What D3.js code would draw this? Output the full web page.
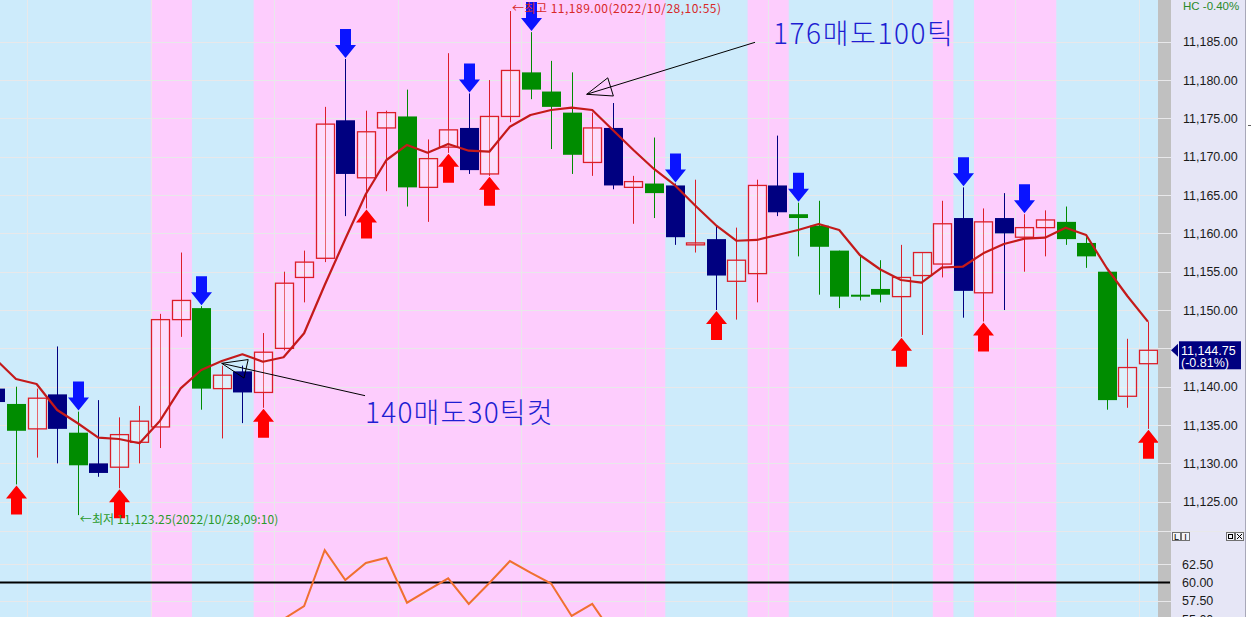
<!DOCTYPE html>
<html><head><meta charset="utf-8">
<script src="https://cdn.jsdelivr.net/npm/d3@7"></script>
<style>body{margin:0;background:#fff;overflow:hidden}svg{display:block}</style>
</head><body>
<svg id="c" width="1252" height="617"></svg>
<script>
// ---------- DATA ----------
const bars   = d3.range(-1, 56); // bar index (5-min bars)
const open  = [11139.75,11137.75,11134.5,11139.0,11134.0,11130.0,11129.5,11132.75,11134.75,11148.75,11150.25,11139.75,11142.0,11139.25,11145.0,11154.25,11156.75,11174.75,11167.25,11173.75,11175.25,11166.0,11171.25,11173.75,11167.75,11175.25,11181.0,11178.5,11175.75,11169.25,11173.75,11166.0,11166.5,11166.25,11158.5,11159.25,11153.75,11154.75,11166.25,11162.5,11161.0,11157.75,11152.0,11152.75,11151.75,11154.5,11156.0,11162.0,11152.25,11162.0,11159.5,11160.75,11161.5,11158.75,11155.0,11138.75,11143.0];
const high  = [11140.25,11140.0,11139.75,11145.25,11136.75,11138.25,11136.0,11137.5,11149.5,11157.5,11150.5,11142.75,11142.75,11147.0,11155.0,11157.75,11176.5,11182.75,11176.0,11176.0,11178.75,11172.25,11183.5,11178.25,11180.0,11189.0,11186.25,11182.5,11181.0,11175.75,11177.0,11167.5,11172.5,11166.5,11167.0,11161.0,11160.75,11167.0,11172.75,11164.0,11164.25,11157.75,11157.0,11156.5,11158.5,11157.5,11164.25,11166.0,11163.25,11165.25,11162.5,11163.0,11163.5,11159.5,11155.0,11146.25,11148.5];
const low   = [11137.5,11127.25,11130.75,11130.0,11123.25,11128.25,11126.75,11130.0,11132.0,11146.5,11137.0,11133.25,11135.25,11137.25,11144.75,11151.0,11156.25,11162.25,11163.25,11165.5,11163.5,11161.5,11170.5,11167.75,11167.5,11174.5,11177.5,11171.0,11167.75,11167.5,11165.75,11161.25,11162.0,11158.5,11157.5,11150.0,11148.75,11151.0,11162.25,11157.0,11152.0,11150.25,11151.25,11151.0,11146.5,11146.75,11154.25,11149.0,11148.5,11150.0,11155.0,11157.0,11158.5,11155.5,11137.0,11137.25,11134.5];
const close = [11138.0,11134.25,11138.5,11134.5,11129.75,11128.75,11133.75,11135.5,11148.75,11151.25,11139.75,11141.5,11139.25,11144.5,11153.5,11156.25,11174.25,11167.75,11173.25,11175.75,11166.0,11169.75,11173.5,11168.25,11175.25,11181.25,11178.75,11176.5,11170.25,11173.75,11166.25,11166.75,11165.25,11159.5,11158.75,11154.5,11156.5,11166.25,11162.75,11162.0,11158.25,11151.75,11151.75,11152.0,11154.25,11157.5,11161.25,11152.5,11161.5,11160.0,11160.75,11161.75,11159.25,11157.0,11138.25,11142.5,11144.75];
// candle style: u = rising (hollow red), n = falling (navy), g = falling (green)
const kind  = "ngungnuuuugunuuuunuuguunuugggunugnunuunggggguuununuuggguu".split("");
const ma    = [11143.6,11141.0,11140.35,11136.96,11135.23,11133.35,11133.18,11132.62,11135.57,11139.79,11142.18,11143.35,11144.23,11143.26,11143.84,11146.97,11153.27,11159.27,11165.14,11169.57,11171.53,11170.52,11171.66,11170.78,11170.65,11173.91,11175.44,11176.09,11176.39,11176.09,11173.48,11170.87,11168.4,11166.31,11163.64,11161.09,11159.04,11159.14,11159.79,11160.44,11161.22,11160.44,11157.18,11155.29,11153.92,11153.57,11155.55,11155.65,11157.4,11158.61,11159.31,11159.44,11160.74,11159.79,11155.48,11151.83,11148.48];
// lower-panel oscillator (only the visible part)
const oscBars = d3.range(12, 30);
const osc     = [52.0,55.0,56.79,64.43,60.34,62.66,63.38,57.24,58.91,60.57,57.07,59.93,62.93,61.34,59.86,55.43,57.07,53.0];
const sellSignals = [3,9,16,22,25,32,38,46,49];
const buySignals  = [0,5,12,17,21,23,34,43,47,55];
const pinkRanges  = [[7,8],[12,31],[36,37],[45,45],[47,50]];
const priceTicks  = [11185,11180,11175,11170,11165,11160,11155,11150,11145,11140,11135,11130,11125];
const oscTicks    = [62.5,60,57.5,55];
const oscLevel    = 60;
const gridEvery   = 6;
const lastPrice = 11144.75, lastChange = "(-0.81%)", hcText = "HC -0.40%";
const maxLabel = {bar:24, value:11189.00, text:"←최고 11,189.00(2022/10/28,10:55)"};
const minLabel = {bar:3,  value:11123.25, text:"←최저 11,123.25(2022/10/28,09:10)"};
const notes = [
  {text:"176매도100틱", tx:36.78, ty:11184.7, from:[35.91,11184.92], tip:[27.73,11178.14]},
  {text:"140매도30틱컷", tx:16.96, ty:11135.27, from:[16.96,11138.83], tip:[9.995,11143.05]}
];

// ---------- LAYOUT ----------
const W=1252, H=617, plotR=1158, stripR=1171, axisR=1245, panelSplit=531.5;
const x  = d3.scaleLinear().domain([0,55]).range([16,1147.9]);
const y  = d3.scaleLinear().domain([11125,11185]).range([501.7,41.7]);
const yo = d3.scaleLinear().domain([57.5,62.5]).range([600.8,564.2]);
const fmt = d3.format(",.2f");
const svg = d3.select("#c");

const defs = svg.append("defs");
defs.append("clipPath").attr("id","cu").append("rect").attr("x",0).attr("y",0).attr("width",plotR).attr("height",panelSplit);
defs.append("clipPath").attr("id","cl").append("rect").attr("x",0).attr("y",panelSplit).attr("width",plotR).attr("height",H-panelSplit);

svg.append("rect").attr("width",W).attr("height",H).attr("fill","#ffffff");
svg.append("rect").attr("width",plotR).attr("height",H).attr("fill","#cdebfb");
svg.append("g").selectAll("rect").data(pinkRanges).join("rect")
  .attr("x",d=>x(d[0]-0.5)+1).attr("width",d=>x(d[1]+0.5)-x(d[0]-0.5))
  .attr("y",0).attr("height",H).attr("fill","#fdcdfd");
svg.append("rect").attr("x",plotR).attr("width",stripR-plotR).attr("height",H).attr("fill","#c0c0c0");
svg.append("rect").attr("x",stripR).attr("width",axisR-stripR).attr("height",H).attr("fill","#e6e6f6");
svg.append("line").attr("x1",axisR+0.5).attr("x2",axisR+0.5).attr("y1",0).attr("y2",H).attr("stroke","#a8a8b8");
svg.append("line").attr("x1",1248).attr("x2",1251).attr("y1",125.5).attr("y2",125.5).attr("stroke","#606060");

// grid
const grid = svg.append("g").attr("stroke","#e8e8ea").attr("stroke-width",1);
grid.selectAll(".h").data(priceTicks).join("line")
  .attr("x1",0).attr("x2",stripR).attr("y1",d=>Math.round(y(d))+0.5).attr("y2",d=>Math.round(y(d))+0.5);
grid.selectAll(".o").data([62.5,57.5]).join("line")
  .attr("x1",0).attr("x2",stripR).attr("y1",d=>Math.round(yo(d))+0.5).attr("y2",d=>Math.round(yo(d))+0.5);
grid.append("line").attr("x1",0).attr("x2",axisR).attr("y1",panelSplit).attr("y2",panelSplit);
grid.selectAll(".v").data(d3.range(0,56,gridEvery)).join("line")
  .attr("x1",d=>Math.round(x(d+0.5))+1.5).attr("x2",d=>Math.round(x(d+0.5))+1.5).attr("y1",0).attr("y2",H);

// lower panel
svg.append("line").attr("x1",0).attr("x2",1170).attr("y1",yo(oscLevel)).attr("y2",yo(oscLevel))
  .attr("stroke","#000").attr("stroke-width",2);
const oscData = oscBars.map((b,i)=>({b, v:osc[i]}));
svg.append("path").attr("clip-path","url(#cl)").datum(oscData)
  .attr("d", d3.line().defined(d=>d.v!=null).x(d=>x(d.b)).y(d=>yo(d.v)))
  .attr("fill","none").attr("stroke","#f07030").attr("stroke-width",2);

// candles
const data = bars.map((b,i)=>({b,o:open[i],h:high[i],l:low[i],c:close[i],k:kind[i]}));
const col = {u:"#dc1e28", n:"#000080", g:"#008c00"};
const cg = svg.append("g").attr("clip-path","url(#cu)");
const bw = 18;
data.forEach(d=>{
  const cx = Math.round(x(d.b));
  const top = y(Math.max(d.o,d.c)), bot = y(Math.min(d.o,d.c));
  const c = col[d.k];
  cg.append("line").attr("x1",cx+0.5).attr("x2",cx+0.5).attr("y1",y(d.h)).attr("y2",y(d.l)).attr("stroke",c).attr("stroke-width",1);
  if (d.k==="u") {
    cg.append("rect").attr("x",cx-bw/2+0.5).attr("y",top).attr("width",bw).attr("height",Math.max(1,bot-top))
      .attr("fill","#ffffff").attr("fill-opacity",0.32).attr("stroke",c).attr("stroke-width",1.3);
  } else {
    cg.append("rect").attr("x",cx-bw/2).attr("y",top).attr("width",bw+1).attr("height",Math.max(2,bot-top)).attr("fill",c);
  }
});

// moving average
cg.append("path").datum(bars.map((b,i)=>[b,ma[i]]))
  .attr("d",d3.line().x(d=>x(d[0])).y(d=>y(d[1])))
  .attr("fill","none").attr("stroke","#c41a1a").attr("stroke-width",2.2).attr("stroke-linejoin","round");

// signal arrows
const arrowPts = [[0,0],[-10.5,-13],[-5.5,-13],[-5.5,-29],[5.5,-29],[5.5,-13],[10.5,-13]];
sellSignals.forEach(b=>{
  const i=b+1, cx=Math.round(x(b))+0.5, ty=y(high[i])-1;
  cg.append("polygon").attr("points",arrowPts.map(p=>[cx+p[0],ty+p[1]].join(",")).join(" ")).attr("fill","#0a14ff");
});
buySignals.forEach(b=>{
  const i=b+1, cx=Math.round(x(b))+0.5, ty=y(low[i])+1;
  cg.append("polygon").attr("points",arrowPts.map(p=>[cx+p[0],ty-p[1]].join(",")).join(" ")).attr("fill","#ff0000");
});

// max / min labels
svg.append("text").attr("x",x(maxLabel.bar)+2).attr("y",13).attr("font-family","Noto Sans CJK KR").attr("font-size",12)
  .attr("fill","#d82828").attr("letter-spacing",0.5).text(maxLabel.text);
svg.append("text").attr("x",x(minLabel.bar)+2).attr("y",y(minLabel.value)+9).attr("font-family","Noto Sans CJK KR").attr("font-size",12)
  .attr("fill","#2a9a2a").attr("letter-spacing",0.15).text(minLabel.text);

// annotations
notes.forEach((n,k)=>{
  const fx=x(n.from[0]), fy=y(n.from[1]), tx=x(n.tip[0]), ty=y(n.tip[1]);
  const dx=fx-tx, dy=fy-ty, L=Math.hypot(dx,dy), ux=dx/L, uy=dy/L;
  const bx=tx+ux*25, by=ty+uy*25, px=-uy*9.5, py=ux*9.5;
  svg.append("line").attr("x1",fx).attr("y1",fy).attr("x2",tx).attr("y2",ty).attr("stroke","#000").attr("stroke-width",1);
  svg.append("polygon").attr("points",[[tx,ty],[bx+px,by+py],[bx-px,by-py]].map(p=>p.join(",")).join(" "))
    .attr("fill","none").attr("stroke","#000").attr("stroke-width",1);
  svg.append("text").attr("x",x(n.tx)).attr("y",y(n.ty)).attr("font-family","Noto Sans CJK KR").attr("font-size",28)
    .attr("font-weight",300).attr("fill","#1e1ed2").attr("letter-spacing",k===0?1.6:1.2).text(n.text);
});

// right axis
const ax = svg.append("g").attr("font-family","Liberation Sans, Arial, sans-serif").attr("font-size",12.5).attr("fill","#1a1a1a");
ax.selectAll(".p").data(priceTicks).join("text").attr("x",1183).attr("y",d=>y(d)+4.5).text(d=>fmt(d));
ax.selectAll(".q").data(oscTicks).join("text").attr("x",1182).attr("y",d=>yo(d)+4.5).text(d=>d3.format(".2f")(d));
svg.append("text").attr("x",1183).attr("y",10).attr("font-family","Liberation Sans, Arial, sans-serif").attr("font-size",11.5)
  .attr("fill","#2a8a2a").text(hcText);

// last price marker
const ly = y(lastPrice);
svg.append("polygon").attr("points",`${stripR},${ly} ${stripR+7},${ly-6.5} ${stripR+7},${ly+6.5}`).attr("fill","#000080");
svg.append("rect").attr("x",1179).attr("y",ly-9).attr("width",62).attr("height",28).attr("fill","#000080");
svg.append("text").attr("x",1181).attr("y",ly+5).attr("font-family","Liberation Sans, Arial, sans-serif").attr("font-size",12.5).attr("fill","#fff").text(fmt(lastPrice));
svg.append("text").attr("x",1181).attr("y",ly+17).attr("font-family","Liberation Sans, Arial, sans-serif").attr("font-size",12.5).attr("fill","#fff").text(lastChange);

// panel buttons
const btn = svg.append("g").attr("font-family","Liberation Sans, Arial, sans-serif").attr("font-size",9).attr("fill","#000");
[[1172,"L"],[1181,"I"]].forEach(([bx,t])=>{
  btn.append("rect").attr("x",bx+0.5).attr("y",532.5).attr("width",8).attr("height",8).attr("fill","#f4f4f8").attr("stroke","#707070");
  btn.append("text").attr("x",bx+4.5).attr("y",540).attr("text-anchor","middle").text(t);
});
[1226,1235].forEach((bx,k)=>{
  btn.append("rect").attr("x",bx+0.5).attr("y",532.5).attr("width",8).attr("height",8).attr("fill","#f4f4f8").attr("stroke","#707070");
  if(k===0) btn.append("rect").attr("x",bx+2.5).attr("y",534.5).attr("width",4).attr("height",4).attr("fill","none").attr("stroke","#000");
  else { btn.append("path").attr("d",`M${bx+2},${534} L${bx+7},${539} M${bx+7},${534} L${bx+2},${539}`).attr("stroke","#000"); }
});
</script>
</body></html>
